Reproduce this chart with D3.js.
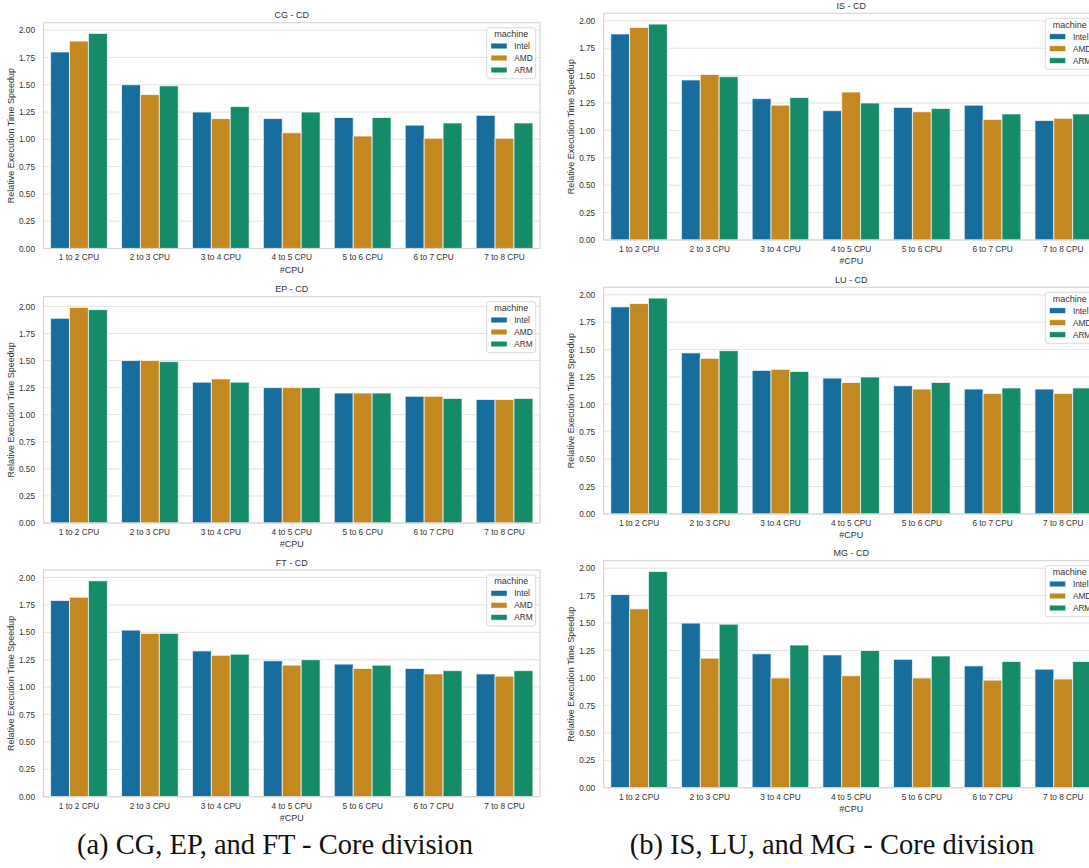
<!DOCTYPE html>
<html>
<head>
<meta charset="utf-8">
<script src="https://cdn.jsdelivr.net/npm/d3@7"></script>
<style>
  html, body { margin: 0; padding: 0; background: #ffffff; }
  svg { display: block; }
  text { font-family: "Liberation Sans", Arial, sans-serif; fill: #333333; }
  .caption { font-family: "Liberation Serif", "DejaVu Serif", serif; fill: #111111; }
</style>
</head>
<body>
<svg id="fig" width="1089" height="868"></svg>
<script>
// Relative execution-time speedup when going from n to n+1 CPUs (core division)
const categories = ["1 to 2 CPU", "2 to 3 CPU", "3 to 4 CPU", "4 to 5 CPU", "5 to 6 CPU", "6 to 7 CPU", "7 to 8 CPU"];
const machines = ["Intel", "AMD", "ARM"];
const yTicks = [0, 0.25, 0.5, 0.75, 1.0, 1.25, 1.5, 1.75, 2.0];

// rows: Intel, AMD, ARM
const cgSpeedup = [
  [1.80, 1.50, 1.25, 1.19, 1.20, 1.13, 1.22],
  [1.90, 1.41, 1.19, 1.06, 1.03, 1.01, 1.01],
  [1.97, 1.49, 1.30, 1.25, 1.20, 1.15, 1.15]
];
const epSpeedup = [
  [1.89, 1.50, 1.30, 1.25, 1.20, 1.17, 1.14],
  [1.99, 1.50, 1.33, 1.25, 1.20, 1.17, 1.14],
  [1.97, 1.49, 1.30, 1.25, 1.20, 1.15, 1.15]
];
const ftSpeedup = [
  [1.79, 1.52, 1.33, 1.24, 1.21, 1.17, 1.12],
  [1.82, 1.49, 1.29, 1.20, 1.17, 1.12, 1.10],
  [1.97, 1.49, 1.30, 1.25, 1.20, 1.15, 1.15]
];
const isSpeedup = [
  [1.88, 1.46, 1.29, 1.18, 1.21, 1.23, 1.09],
  [1.94, 1.51, 1.23, 1.35, 1.17, 1.10, 1.11],
  [1.97, 1.49, 1.30, 1.25, 1.20, 1.15, 1.15]
];
const luSpeedup = [
  [1.89, 1.47, 1.31, 1.24, 1.17, 1.14, 1.14],
  [1.92, 1.42, 1.32, 1.20, 1.14, 1.10, 1.10],
  [1.97, 1.49, 1.30, 1.25, 1.20, 1.15, 1.15]
];
const mgSpeedup = [
  [1.76, 1.50, 1.22, 1.21, 1.17, 1.11, 1.08],
  [1.63, 1.18, 1.00, 1.02, 1.00, 0.98, 0.99],
  [1.97, 1.49, 1.30, 1.25, 1.20, 1.15, 1.15]
];

const captions = ["(a) CG, EP, and FT - Core division", "(b) IS, LU, and MG - Core division"];

// seaborn "colorblind" palette, desaturated as barplot does
const colors = ["#176d9c", "#c38820", "#158b6a"];

const panels = [
  { title: "CG - CD", data: cgSpeedup, left: 43.5, right: 540, top: 22.7, bottom: 248.5 },
  { title: "EP - CD", data: epSpeedup, left: 43.5, right: 540, top: 296.7, bottom: 523 },
  { title: "FT - CD", data: ftSpeedup, left: 43.5, right: 540, top: 570, bottom: 796.7 },
  { title: "IS - CD", data: isSpeedup, left: 603.7, right: 1098.6, top: 13.3, bottom: 240 },
  { title: "LU - CD", data: luSpeedup, left: 603.7, right: 1098.6, top: 287.3, bottom: 514 },
  { title: "MG - CD", data: mgSpeedup, left: 603.7, right: 1098.6, top: 560.7, bottom: 787.7 }
];

const svg = d3.select("#fig");
svg.append("rect").attr("width", 1089).attr("height", 868).attr("fill", "#ffffff");

const color = d3.scaleOrdinal().domain(machines).range(colors);

panels.forEach(p => {
  const g = svg.append("g");
  const maxVal = d3.max(p.data.flat());

  const x = d3.scaleBand().domain(categories).range([p.left, p.right]).padding(0);
  const inner = d3.scaleBand().domain(machines).range([0, x.bandwidth() * 0.8]).padding(0);
  const y = d3.scaleLinear().domain([0, maxVal * 1.05]).range([p.bottom, p.top]);

  // horizontal grid
  g.append("g").selectAll("line").data(yTicks).join("line")
    .attr("x1", p.left).attr("x2", p.right)
    .attr("y1", d => y(d)).attr("y2", d => y(d))
    .attr("stroke", "#e3e3e3").attr("stroke-width", 1);

  // bars
  const rows = [];
  p.data.forEach((vals, mi) => vals.forEach((v, ci) => rows.push({ m: machines[mi], c: categories[ci], v })));
  g.append("g").selectAll("rect").data(rows).join("rect")
    .attr("x", d => x(d.c) + x.bandwidth() * 0.1 + inner(d.m))
    .attr("width", inner.bandwidth())
    .attr("y", d => y(d.v))
    .attr("height", d => y(0) - y(d.v))
    .attr("fill", d => color(d.m))
    .attr("stroke", "#ffffff").attr("stroke-opacity", 0.7).attr("stroke-width", 1);

  // frame
  g.append("rect")
    .attr("x", p.left).attr("y", p.top)
    .attr("width", p.right - p.left).attr("height", p.bottom - p.top)
    .attr("fill", "none").attr("stroke", "#d6d6d6").attr("stroke-width", 1.2);

  // y axis
  const yAxis = d3.axisLeft(y).tickValues(yTicks).tickFormat(d3.format(".2f")).tickSize(0).tickPadding(8.5);
  const ya = g.append("g").attr("transform", `translate(${p.left},0)`).call(yAxis);
  ya.select(".domain").remove();
  ya.selectAll("text").attr("font-size", 8.25).attr("fill", "#333333")
    .style("font-family", '"Liberation Sans", Arial, sans-serif');

  // x axis
  const xAxis = d3.axisBottom(x).tickSize(0).tickPadding(6);
  const xa = g.append("g").attr("transform", `translate(0,${p.bottom})`).call(xAxis);
  xa.select(".domain").remove();
  xa.selectAll("text").attr("font-size", 8.25).attr("fill", "#333333")
    .style("font-family", '"Liberation Sans", Arial, sans-serif');

  // titles and axis labels
  g.append("text").attr("x", (p.left + p.right) / 2).attr("y", p.top - 4.5)
    .attr("text-anchor", "middle").attr("font-size", 9).text(p.title);
  g.append("text").attr("x", (p.left + p.right) / 2).attr("y", p.bottom + 24)
    .attr("text-anchor", "middle").attr("font-size", 9).text("#CPU");
  g.append("text")
    .attr("transform", `translate(${p.left - 30},${(p.top + p.bottom) / 2}) rotate(-90)`)
    .attr("text-anchor", "middle").attr("font-size", 9).text("Relative Execution Time Speedup");

  // legend
  const lx = p.right - 53.3, ly = p.top + 5;
  const lg = g.append("g");
  lg.append("rect").attr("x", lx).attr("y", ly).attr("width", 49).attr("height", 51)
    .attr("rx", 2.5).attr("fill", "#ffffff").attr("fill-opacity", 0.85)
    .attr("stroke", "#d9d9d9").attr("stroke-width", 1);
  lg.append("text").attr("x", lx + 24.5).attr("y", ly + 9.2)
    .attr("text-anchor", "middle").attr("font-size", 9).text("machine");
  machines.forEach((m, i) => {
    const cy = ly + 18.3 + i * 12;
    lg.append("rect").attr("x", lx + 4.3).attr("y", cy - 2.8).attr("width", 16).attr("height", 5.6)
      .attr("fill", color(m)).attr("stroke", "#ffffff").attr("stroke-opacity", 0.6).attr("stroke-width", 0.8);
    lg.append("text").attr("x", lx + 27.6).attr("y", cy + 3).attr("font-size", 8.25).text(m);
  });
});

// sub-figure captions
svg.append("text").attr("class", "caption").attr("x", 275).attr("y", 854)
  .attr("text-anchor", "middle").attr("font-size", 28.5).text(captions[0]);
svg.append("text").attr("class", "caption").attr("x", 832).attr("y", 854)
  .attr("text-anchor", "middle").attr("font-size", 28.5).text(captions[1]);
</script>
</body>
</html>
